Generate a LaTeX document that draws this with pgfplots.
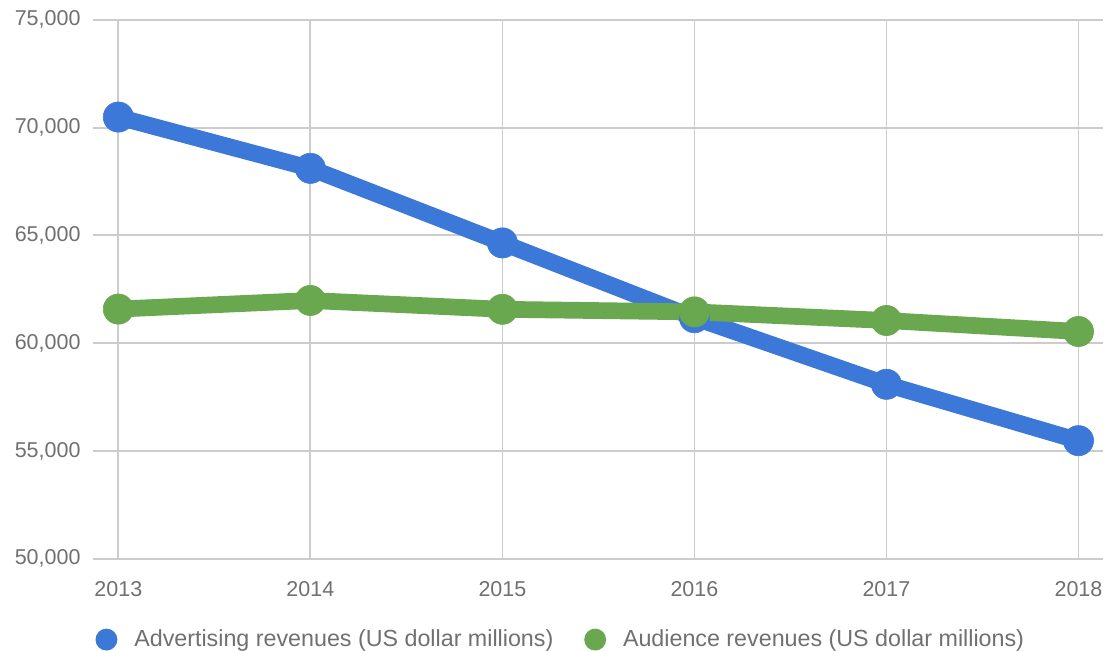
\documentclass[border=0pt]{standalone}
\usepackage{pgfplots}
\pgfplotsset{compat=1.18}
\usepackage{fontspec}
\setmainfont{Liberation Sans}
\definecolor{advblue}{HTML}{3C78D8}
\definecolor{audgreen}{HTML}{6AA84F}
\definecolor{gridgray}{HTML}{CCCCCC}
\definecolor{txtgray}{HTML}{707070}
\begin{document}
\begin{tikzpicture}
\begin{axis}[
  scale only axis,
  width=507.5pt, height=270.85pt,
  xmin=2012.8705, xmax=2018.128,
  ymin=50000, ymax=75000,
  xtick={2013,2014,2015,2016,2017,2018},
  ytick={50000,55000,60000,65000,70000,75000},
  xticklabels={2013,2014,2015,2016,2017,2018},
  scaled y ticks=false,
  /pgf/number format/.cd, 1000 sep={,}, assume math mode=true, /pgfplots/.cd,
  grid=major,
  major grid style={color=gridgray, line width=0.9pt},
  axis line style={draw=none},
  tick style={draw=none},
  tick label style={font=\fontsize{10.8}{12}\selectfont, text=txtgray},
  yticklabel style={xshift=-3pt},
  xticklabel style={yshift=-8pt},
  clip=false,
  legend style={at={(axis description cs:0.002,-0.1502)}, anchor=west,
    draw=none, fill=none, inner sep=0pt, outer sep=0pt,
    font=\fontsize{11.7}{13}\selectfont, text=txtgray,
    nodes={inner sep=0pt},
    legend columns=2, legend cell align=left,
    /tikz/every odd column/.append style={column sep=8.5pt},
    /tikz/every even column/.append style={column sep=15.5pt}},
  legend image code/.code={\fill[#1, draw=none] (5.5pt,0pt) circle (5.5pt);},
]
\addplot[color=advblue, line width=8.4pt, mark=*, mark size=7.6pt, mark options={solid, fill=advblue, draw=advblue, line width=0.3pt}] coordinates {
(2013,70490) (2014,68110) (2015,64650) (2016,61180) (2017,58090) (2018,55475)};
\addlegendentry{Advertising revenues (US dollar millions)}
\addplot[color=audgreen, line width=8.4pt, mark=*, mark size=7.6pt, mark options={solid, fill=audgreen, draw=audgreen, line width=0.3pt}] coordinates {
(2013,61580) (2014,61980) (2015,61570) (2016,61450) (2017,61050) (2018,60540)};
\addlegendentry{Audience revenues (US dollar millions)}
\path (axis description cs:-0.0926,1.0369) (axis description cs:1,-0.1704);
\end{axis}
\end{tikzpicture}
\end{document}
